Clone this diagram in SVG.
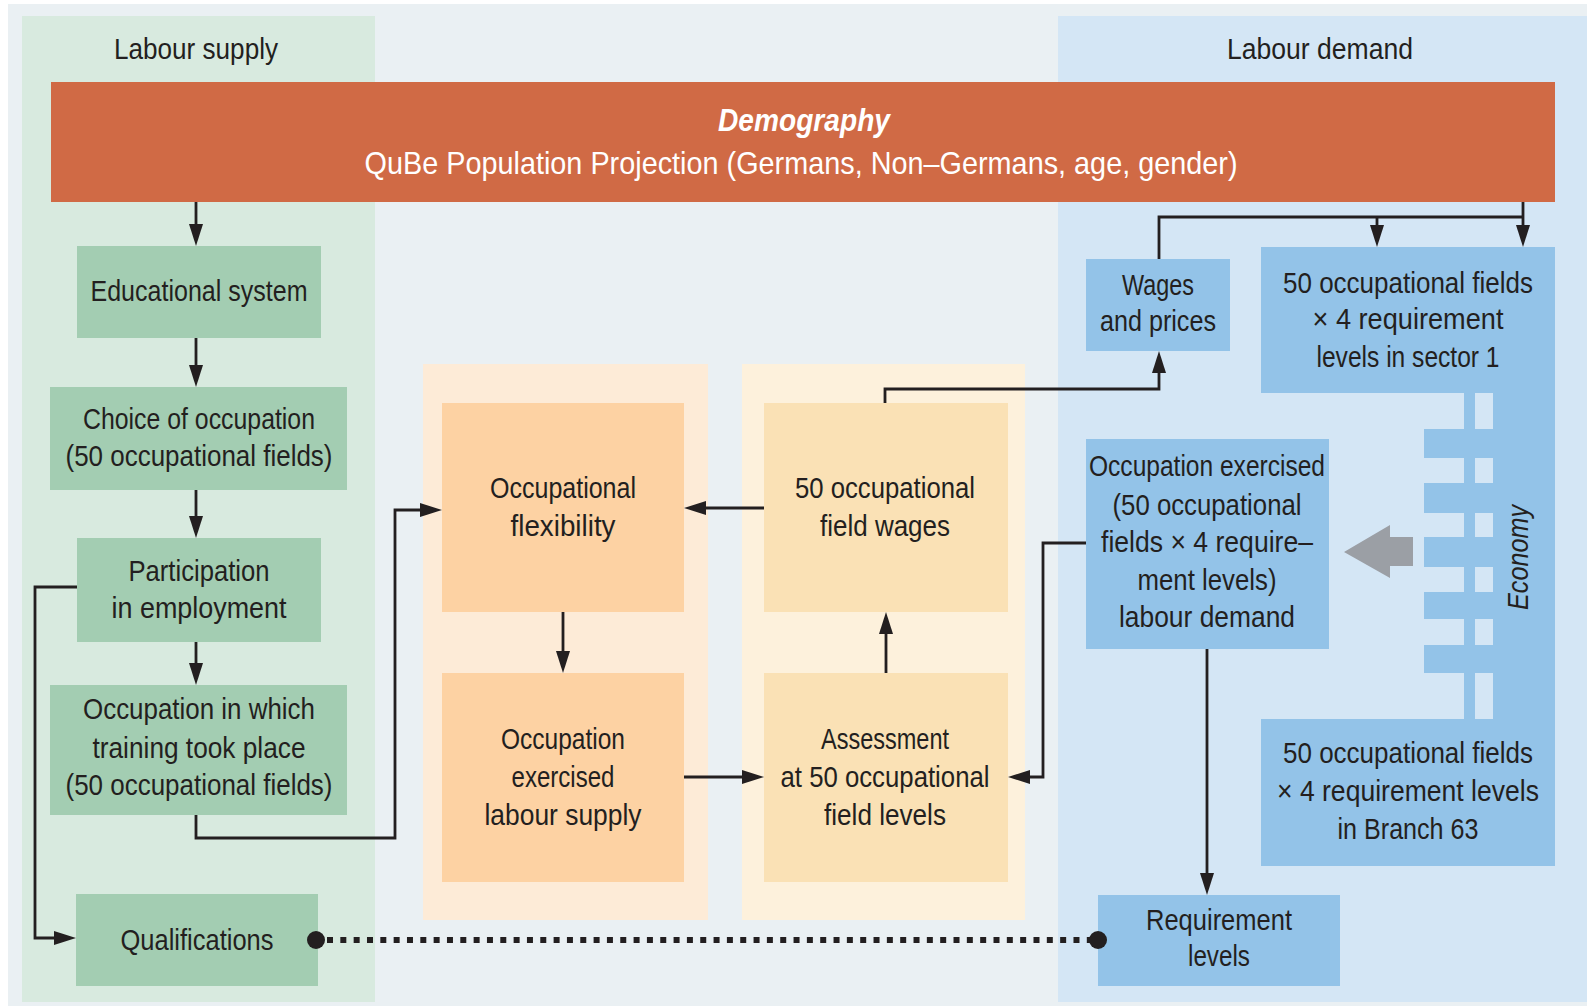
<svg xmlns="http://www.w3.org/2000/svg" width="1587" height="1006" viewBox="0 0 1587 1006">
<defs>
<style>
.t{font-family:"Liberation Sans",Arial,sans-serif;font-size:30px;fill:#231f20;text-anchor:middle}
.wt{fill:#ffffff;font-size:32px}
.it{font-style:italic}
.green{fill:#a3cdb2}
.blue{fill:#93c3e8}
.peach{fill:#fdd2a3}
.sand{fill:#fae1b5}
.c{fill:none;stroke:#231f20;stroke-width:2.8}
.a{marker-end:url(#ah)}
</style>
<marker id="ah" markerUnits="userSpaceOnUse" viewBox="0 0 22 14" refX="14" refY="7" markerWidth="22" markerHeight="14" orient="auto">
<path d="M0,0 L22,7 L0,14 Z" fill="#231f20"/>
</marker>
</defs>
<rect x="0" y="0" width="1587" height="1006" fill="#ffffff"/>
<rect x="8" y="4" width="1579" height="1002" fill="#eaf0f3"/>
<g id="panel-supply">
<rect x="22" y="16" width="353" height="986" fill="#d8eadf"/>
<text class="t" x="196" y="59" textLength="164" lengthAdjust="spacingAndGlyphs">Labour supply</text>
</g>
<g id="panel-demand">
<rect x="1058" y="16" width="529" height="986" fill="#d4e6f5"/>
<text class="t" x="1320" y="59" textLength="186" lengthAdjust="spacingAndGlyphs">Labour demand</text>
</g>
<g id="panel-mid1"><rect x="423" y="364" width="285" height="556" fill="#fdebd7"/></g>
<g id="panel-mid2"><rect x="742" y="364" width="283" height="556" fill="#fdf1dc"/></g>

<g id="demography">
<rect x="51" y="82" width="1504" height="120" fill="#d06a45"/>
<text class="t wt it" x="804" y="131" font-weight="bold" textLength="172" lengthAdjust="spacingAndGlyphs">Demography</text>
<text class="t wt" x="801" y="174" textLength="873" lengthAdjust="spacingAndGlyphs">QuBe Population Projection (Germans, Non–Germans, age, gender)</text>
</g>

<g id="educational-system">
<rect class="green" x="77" y="246" width="244" height="92"/>
<text class="t" x="199" y="301" textLength="217" lengthAdjust="spacingAndGlyphs">Educational system</text>
</g>
<g id="choice-of-occupation">
<rect class="green" x="50" y="387" width="297" height="103"/>
<text class="t" x="199" y="429" textLength="232" lengthAdjust="spacingAndGlyphs">Choice of occupation</text>
<text class="t" x="199" y="466" textLength="267" lengthAdjust="spacingAndGlyphs">(50 occupational fields)</text>
</g>
<g id="participation">
<rect class="green" x="77" y="538" width="244" height="104"/>
<text class="t" x="199" y="581" textLength="141" lengthAdjust="spacingAndGlyphs">Participation</text>
<text class="t" x="199" y="618" textLength="175" lengthAdjust="spacingAndGlyphs">in employment</text>
</g>
<g id="occupation-training">
<rect class="green" x="50" y="685" width="297" height="130"/>
<text class="t" x="199" y="719" textLength="232" lengthAdjust="spacingAndGlyphs">Occupation in which</text>
<text class="t" x="199" y="758" textLength="213" lengthAdjust="spacingAndGlyphs">training took place</text>
<text class="t" x="199" y="795" textLength="267" lengthAdjust="spacingAndGlyphs">(50 occupational fields)</text>
</g>
<g id="qualifications">
<rect class="green" x="76" y="894" width="242" height="92"/>
<text class="t" x="197" y="950" textLength="153" lengthAdjust="spacingAndGlyphs">Qualifications</text>
</g>

<g id="occupational-flexibility">
<rect class="peach" x="442" y="403" width="242" height="209"/>
<text class="t" x="563" y="498" textLength="146" lengthAdjust="spacingAndGlyphs">Occupational</text>
<text class="t" x="563" y="536" textLength="105" lengthAdjust="spacingAndGlyphs">flexibility</text>
</g>
<g id="occupation-exercised-supply">
<rect class="peach" x="442" y="673" width="242" height="209"/>
<text class="t" x="563" y="749" textLength="124" lengthAdjust="spacingAndGlyphs">Occupation</text>
<text class="t" x="563" y="787" textLength="103" lengthAdjust="spacingAndGlyphs">exercised</text>
<text class="t" x="563" y="825" textLength="157" lengthAdjust="spacingAndGlyphs">labour supply</text>
</g>
<g id="field-wages">
<rect class="sand" x="764" y="403" width="244" height="209"/>
<text class="t" x="885" y="498" textLength="180" lengthAdjust="spacingAndGlyphs">50 occupational</text>
<text class="t" x="885" y="536" textLength="130" lengthAdjust="spacingAndGlyphs">field wages</text>
</g>
<g id="assessment">
<rect class="sand" x="764" y="673" width="244" height="209"/>
<text class="t" x="885" y="749" textLength="128" lengthAdjust="spacingAndGlyphs">Assessment</text>
<text class="t" x="885" y="787" textLength="209" lengthAdjust="spacingAndGlyphs">at 50 occupational</text>
<text class="t" x="885" y="825" textLength="122" lengthAdjust="spacingAndGlyphs">field levels</text>
</g>

<g id="wages-prices">
<rect class="blue" x="1086" y="259" width="144" height="92"/>
<text class="t" x="1158" y="295" textLength="72" lengthAdjust="spacingAndGlyphs">Wages</text>
<text class="t" x="1158" y="331" textLength="116" lengthAdjust="spacingAndGlyphs">and prices</text>
</g>
<g id="sector-1">
<rect class="blue" x="1261" y="247" width="294" height="146"/>
<text class="t" x="1408" y="293" textLength="250" lengthAdjust="spacingAndGlyphs">50 occupational fields</text>
<text class="t" x="1408" y="329" textLength="191" lengthAdjust="spacingAndGlyphs">× 4 requirement</text>
<text class="t" x="1408" y="367" textLength="183" lengthAdjust="spacingAndGlyphs">levels in sector 1</text>
</g>
<g id="economy">
<rect class="blue" x="1493" y="392" width="62" height="328"/>
<rect class="blue" x="1464" y="392" width="11" height="328"/>
<rect class="blue" x="1424" y="429" width="69" height="29"/>
<rect class="blue" x="1424" y="483" width="69" height="30"/>
<rect class="blue" x="1424" y="537" width="69" height="30"/>
<rect class="blue" x="1424" y="592" width="69" height="27"/>
<rect class="blue" x="1424" y="645" width="69" height="28"/>
<text class="t it" transform="translate(1528,557.5) rotate(-90)" x="0" y="0" textLength="105" lengthAdjust="spacingAndGlyphs">Economy</text>
<polygon points="1344,552 1390,525 1390,537 1413,537 1413,566 1390,566 1390,578" fill="#9b9fa5"/>
</g>
<g id="branch-63">
<rect class="blue" x="1261" y="719" width="294" height="147"/>
<text class="t" x="1408" y="763" textLength="250" lengthAdjust="spacingAndGlyphs">50 occupational fields</text>
<text class="t" x="1408" y="801" textLength="262" lengthAdjust="spacingAndGlyphs">× 4 requirement levels</text>
<text class="t" x="1408" y="839" textLength="141" lengthAdjust="spacingAndGlyphs">in Branch 63</text>
</g>
<g id="occupation-exercised-demand">
<rect class="blue" x="1086" y="439" width="243" height="210"/>
<text class="t" x="1207" y="476" textLength="236" lengthAdjust="spacingAndGlyphs">Occupation exercised</text>
<text class="t" x="1207" y="515" textLength="189" lengthAdjust="spacingAndGlyphs">(50 occupational</text>
<text class="t" x="1207" y="552" textLength="212" lengthAdjust="spacingAndGlyphs">fields × 4 require–</text>
<text class="t" x="1207" y="590" textLength="139" lengthAdjust="spacingAndGlyphs">ment levels)</text>
<text class="t" x="1207" y="627" textLength="176" lengthAdjust="spacingAndGlyphs">labour demand</text>
</g>
<g id="requirement-levels">
<rect class="blue" x="1098" y="895" width="242" height="91"/>
<text class="t" x="1219" y="930" textLength="146" lengthAdjust="spacingAndGlyphs">Requirement</text>
<text class="t" x="1219" y="966" textLength="62" lengthAdjust="spacingAndGlyphs">levels</text>
</g>

<g id="connectors">
<path class="c a" d="M196,202 V238"/>
<path class="c a" d="M196,338 V379"/>
<path class="c a" d="M196,490 V530"/>
<path class="c a" d="M196,642 V677"/>
<path class="c a" d="M77,587 H35 V938 H68"/>
<path class="c a" d="M196,815 V838 H395 V510 H434"/>
<path class="c a" d="M563,612 V665"/>
<path class="c a" d="M684,777 H756"/>
<path class="c a" d="M886,673 V620"/>
<path class="c a" d="M764,508 H692"/>
<path class="c a" d="M885,403 V389 H1159 V359"/>
<path class="c a" d="M1086,543 H1043 V777 H1016"/>
<path class="c a" d="M1207,649 V887"/>
<path class="c a" d="M1523,202 V239"/>
<path class="c" d="M1159,259 V217 H1523"/>
<path class="c a" d="M1377,217 V239"/>
<path d="M327,940 H1090" fill="none" stroke="#231f20" stroke-width="6" stroke-dasharray="6 7.33"/>
<circle cx="316" cy="940" r="9" fill="#231f20"/>
<circle cx="1098" cy="940" r="9" fill="#231f20"/>
</g>
</svg>
